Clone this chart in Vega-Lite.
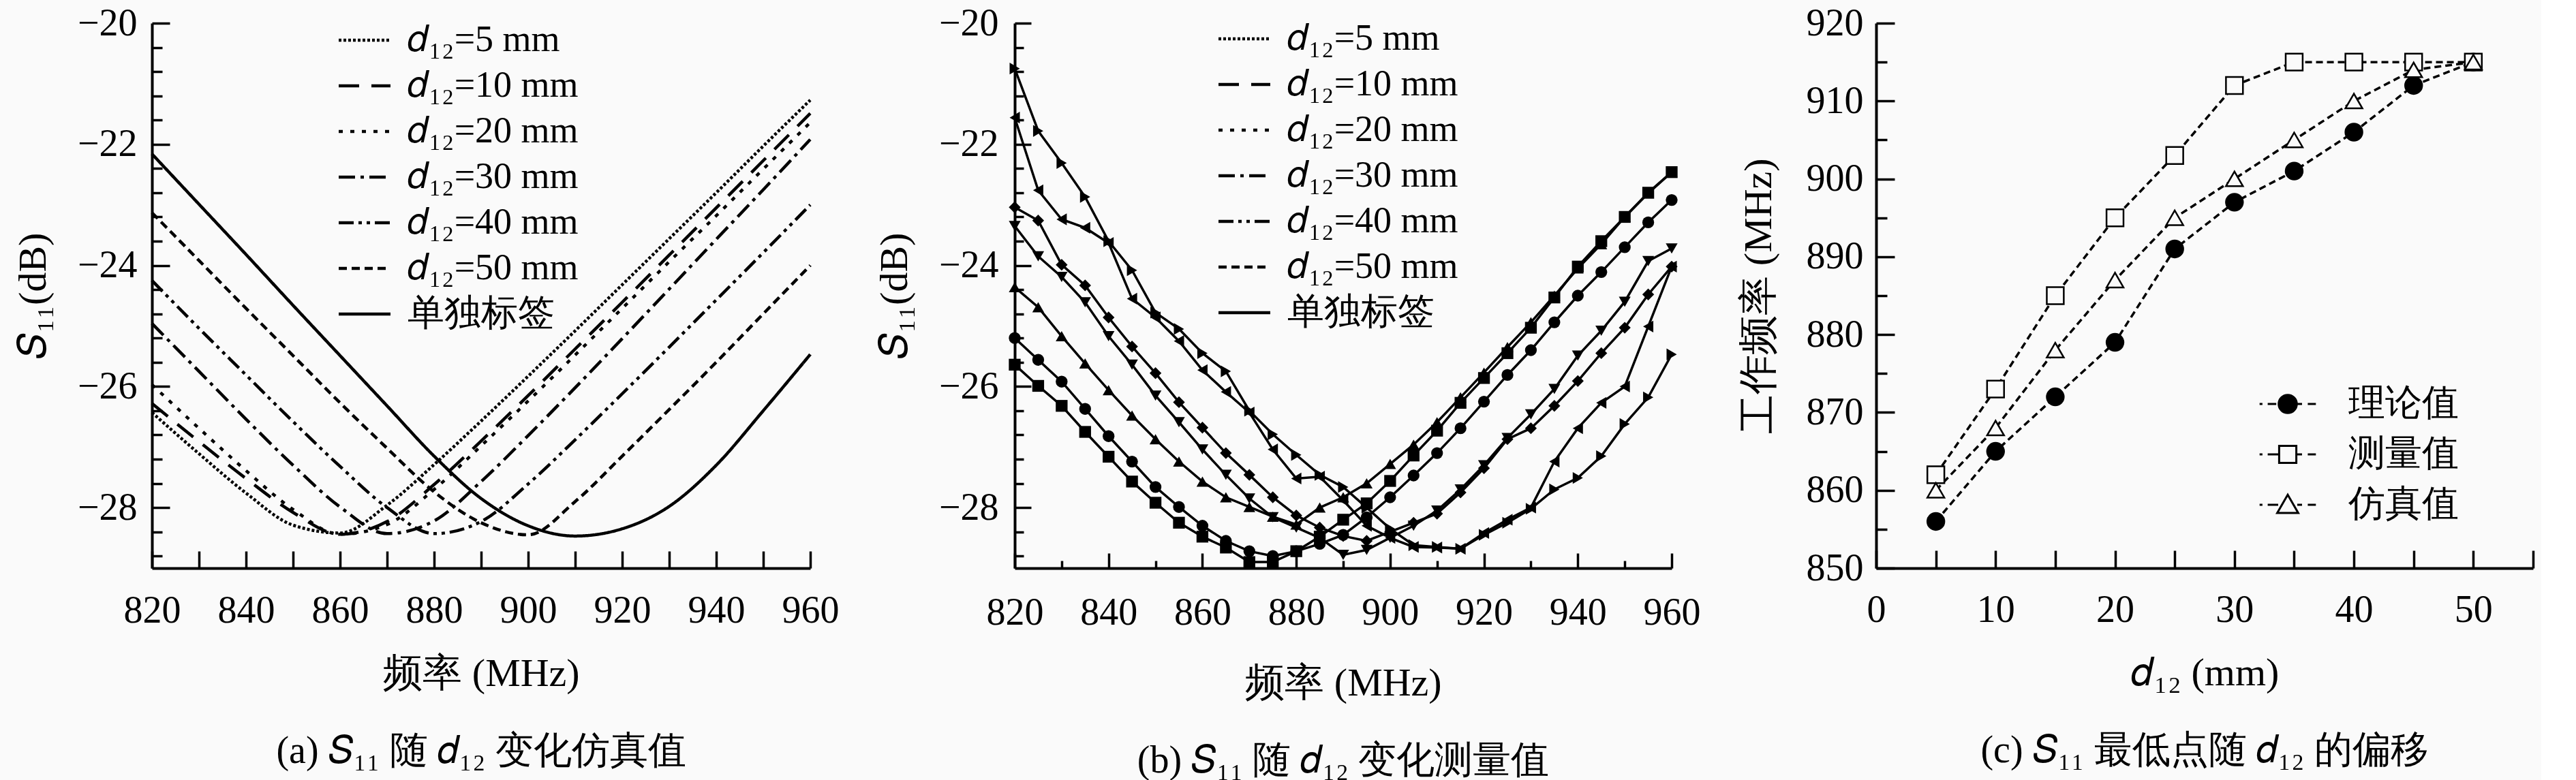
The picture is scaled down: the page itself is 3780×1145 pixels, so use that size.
{
  "$schema": "https://vega.github.io/schema/vega-lite/v6.json",
  "background": "#fafafa",
  "padding": {"left": 20, "top": 6, "right": 10, "bottom": 0},
  "autosize": {"type": "pad"},
  "datasets": {
    "sim": [
      {"s": "𝑑₁₂=5 mm", "f": 820, "v": -26.43}, {"s": "𝑑₁₂=5 mm", "f": 830, "v": -27.11}, {"s": "𝑑₁₂=5 mm", "f": 840, "v": -27.76}, {"s": "𝑑₁₂=5 mm", "f": 850, "v": -28.29}, {"s": "𝑑₁₂=5 mm", "f": 860, "v": -28.42}, {"s": "𝑑₁₂=5 mm", "f": 870, "v": -27.96}, {"s": "𝑑₁₂=5 mm", "f": 880, "v": -27.29}, {"s": "𝑑₁₂=5 mm", "f": 890, "v": -26.57}, {"s": "𝑑₁₂=5 mm", "f": 900, "v": -25.83}, {"s": "𝑑₁₂=5 mm", "f": 910, "v": -25.08}, {"s": "𝑑₁₂=5 mm", "f": 920, "v": -24.32}, {"s": "𝑑₁₂=5 mm", "f": 930, "v": -23.56}, {"s": "𝑑₁₂=5 mm", "f": 940, "v": -22.8}, {"s": "𝑑₁₂=5 mm", "f": 950, "v": -22.03}, {"s": "𝑑₁₂=5 mm", "f": 960, "v": -21.27},
      {"s": "𝑑₁₂=10 mm", "f": 820, "v": -26.28}, {"s": "𝑑₁₂=10 mm", "f": 830, "v": -26.91}, {"s": "𝑑₁₂=10 mm", "f": 840, "v": -27.52}, {"s": "𝑑₁₂=10 mm", "f": 850, "v": -28.08}, {"s": "𝑑₁₂=10 mm", "f": 860, "v": -28.44}, {"s": "𝑑₁₂=10 mm", "f": 870, "v": -28.23}, {"s": "𝑑₁₂=10 mm", "f": 880, "v": -27.62}, {"s": "𝑑₁₂=10 mm", "f": 890, "v": -26.9}, {"s": "𝑑₁₂=10 mm", "f": 900, "v": -26.15}, {"s": "𝑑₁₂=10 mm", "f": 910, "v": -25.38}, {"s": "𝑑₁₂=10 mm", "f": 920, "v": -24.61}, {"s": "𝑑₁₂=10 mm", "f": 930, "v": -23.83}, {"s": "𝑑₁₂=10 mm", "f": 940, "v": -23.05}, {"s": "𝑑₁₂=10 mm", "f": 950, "v": -22.27}, {"s": "𝑑₁₂=10 mm", "f": 960, "v": -21.49},
      {"s": "𝑑₁₂=20 mm", "f": 820, "v": -25.97}, {"s": "𝑑₁₂=20 mm", "f": 830, "v": -26.69}, {"s": "𝑑₁₂=20 mm", "f": 840, "v": -27.39}, {"s": "𝑑₁₂=20 mm", "f": 850, "v": -28.03}, {"s": "𝑑₁₂=20 mm", "f": 860, "v": -28.44}, {"s": "𝑑₁₂=20 mm", "f": 870, "v": -28.28}, {"s": "𝑑₁₂=20 mm", "f": 880, "v": -27.7}, {"s": "𝑑₁₂=20 mm", "f": 890, "v": -26.98}, {"s": "𝑑₁₂=20 mm", "f": 900, "v": -26.24}, {"s": "𝑑₁₂=20 mm", "f": 910, "v": -25.48}, {"s": "𝑑₁₂=20 mm", "f": 920, "v": -24.71}, {"s": "𝑑₁₂=20 mm", "f": 930, "v": -23.94}, {"s": "𝑑₁₂=20 mm", "f": 940, "v": -23.18}, {"s": "𝑑₁₂=20 mm", "f": 950, "v": -22.41}, {"s": "𝑑₁₂=20 mm", "f": 960, "v": -21.64},
      {"s": "𝑑₁₂=30 mm", "f": 820, "v": -24.96}, {"s": "𝑑₁₂=30 mm", "f": 830, "v": -25.75}, {"s": "𝑑₁₂=30 mm", "f": 840, "v": -26.54}, {"s": "𝑑₁₂=30 mm", "f": 850, "v": -27.3}, {"s": "𝑑₁₂=30 mm", "f": 860, "v": -27.99}, {"s": "𝑑₁₂=30 mm", "f": 870, "v": -28.43}, {"s": "𝑑₁₂=30 mm", "f": 880, "v": -28.22}, {"s": "𝑑₁₂=30 mm", "f": 890, "v": -27.57}, {"s": "𝑑₁₂=30 mm", "f": 900, "v": -26.81}, {"s": "𝑑₁₂=30 mm", "f": 910, "v": -26.02}, {"s": "𝑑₁₂=30 mm", "f": 920, "v": -25.21}, {"s": "𝑑₁₂=30 mm", "f": 930, "v": -24.39}, {"s": "𝑑₁₂=30 mm", "f": 940, "v": -23.57}, {"s": "𝑑₁₂=30 mm", "f": 950, "v": -22.75}, {"s": "𝑑₁₂=30 mm", "f": 960, "v": -21.92},
      {"s": "𝑑₁₂=40 mm", "f": 820, "v": -24.25}, {"s": "𝑑₁₂=40 mm", "f": 830, "v": -25.04}, {"s": "𝑑₁₂=40 mm", "f": 840, "v": -25.81}, {"s": "𝑑₁₂=40 mm", "f": 850, "v": -26.58}, {"s": "𝑑₁₂=40 mm", "f": 860, "v": -27.32}, {"s": "𝑑₁₂=40 mm", "f": 870, "v": -28.0}, {"s": "𝑑₁₂=40 mm", "f": 880, "v": -28.43}, {"s": "𝑑₁₂=40 mm", "f": 890, "v": -28.23}, {"s": "𝑑₁₂=40 mm", "f": 900, "v": -27.61}, {"s": "𝑑₁₂=40 mm", "f": 910, "v": -26.88}, {"s": "𝑑₁₂=40 mm", "f": 920, "v": -26.12}, {"s": "𝑑₁₂=40 mm", "f": 930, "v": -25.35}, {"s": "𝑑₁₂=40 mm", "f": 940, "v": -24.57}, {"s": "𝑑₁₂=40 mm", "f": 950, "v": -23.79}, {"s": "𝑑₁₂=40 mm", "f": 960, "v": -23.0},
      {"s": "𝑑₁₂=50 mm", "f": 820, "v": -23.13}, {"s": "𝑑₁₂=50 mm", "f": 830, "v": -23.92}, {"s": "𝑑₁₂=50 mm", "f": 840, "v": -24.71}, {"s": "𝑑₁₂=50 mm", "f": 850, "v": -25.49}, {"s": "𝑑₁₂=50 mm", "f": 860, "v": -26.27}, {"s": "𝑑₁₂=50 mm", "f": 870, "v": -27.02}, {"s": "𝑑₁₂=50 mm", "f": 880, "v": -27.74}, {"s": "𝑑₁₂=50 mm", "f": 890, "v": -28.25}, {"s": "𝑑₁₂=50 mm", "f": 900, "v": -28.45}, {"s": "𝑑₁₂=50 mm", "f": 910, "v": -27.9}, {"s": "𝑑₁₂=50 mm", "f": 920, "v": -27.15}, {"s": "𝑑₁₂=50 mm", "f": 930, "v": -26.38}, {"s": "𝑑₁₂=50 mm", "f": 940, "v": -25.6}, {"s": "𝑑₁₂=50 mm", "f": 950, "v": -24.8}, {"s": "𝑑₁₂=50 mm", "f": 960, "v": -24.0},
      {"s": "单独标签", "f": 820, "v": -22.16}, {"s": "单独标签", "f": 830, "v": -22.99}, {"s": "单独标签", "f": 840, "v": -23.82}, {"s": "单独标签", "f": 850, "v": -24.66}, {"s": "单独标签", "f": 860, "v": -25.49}, {"s": "单独标签", "f": 870, "v": -26.32}, {"s": "单独标签", "f": 880, "v": -27.15}, {"s": "单独标签", "f": 890, "v": -27.85}, {"s": "单独标签", "f": 900, "v": -28.3}, {"s": "单独标签", "f": 910, "v": -28.47}, {"s": "单独标签", "f": 920, "v": -28.35}, {"s": "单独标签", "f": 930, "v": -27.98}, {"s": "单独标签", "f": 940, "v": -27.3}, {"s": "单独标签", "f": 950, "v": -26.4}, {"s": "单独标签", "f": 960, "v": -25.47}
    ],
    "meas": [
      {"s": "𝑑₁₂=5 mm", "f": 820, "v": -25.64}, {"s": "𝑑₁₂=5 mm", "f": 825, "v": -25.99}, {"s": "𝑑₁₂=5 mm", "f": 830, "v": -26.32}, {"s": "𝑑₁₂=5 mm", "f": 835, "v": -26.75}, {"s": "𝑑₁₂=5 mm", "f": 840, "v": -27.16}, {"s": "𝑑₁₂=5 mm", "f": 845, "v": -27.57}, {"s": "𝑑₁₂=5 mm", "f": 850, "v": -27.92}, {"s": "𝑑₁₂=5 mm", "f": 855, "v": -28.25}, {"s": "𝑑₁₂=5 mm", "f": 860, "v": -28.48}, {"s": "𝑑₁₂=5 mm", "f": 865, "v": -28.66}, {"s": "𝑑₁₂=5 mm", "f": 870, "v": -28.9}, {"s": "𝑑₁₂=5 mm", "f": 875, "v": -28.9}, {"s": "𝑑₁₂=5 mm", "f": 880, "v": -28.72}, {"s": "𝑑₁₂=5 mm", "f": 885, "v": -28.48}, {"s": "𝑑₁₂=5 mm", "f": 890, "v": -28.2}, {"s": "𝑑₁₂=5 mm", "f": 895, "v": -27.93}, {"s": "𝑑₁₂=5 mm", "f": 900, "v": -27.56}, {"s": "𝑑₁₂=5 mm", "f": 905, "v": -27.14}, {"s": "𝑑₁₂=5 mm", "f": 910, "v": -26.73}, {"s": "𝑑₁₂=5 mm", "f": 915, "v": -26.27}, {"s": "𝑑₁₂=5 mm", "f": 920, "v": -25.86}, {"s": "𝑑₁₂=5 mm", "f": 925, "v": -25.45}, {"s": "𝑑₁₂=5 mm", "f": 930, "v": -25.03}, {"s": "𝑑₁₂=5 mm", "f": 935, "v": -24.53}, {"s": "𝑑₁₂=5 mm", "f": 940, "v": -24.02}, {"s": "𝑑₁₂=5 mm", "f": 945, "v": -23.6}, {"s": "𝑑₁₂=5 mm", "f": 950, "v": -23.2}, {"s": "𝑑₁₂=5 mm", "f": 955, "v": -22.8}, {"s": "𝑑₁₂=5 mm", "f": 960, "v": -22.46},
      {"s": "𝑑₁₂=10 mm", "f": 820, "v": -25.2}, {"s": "𝑑₁₂=10 mm", "f": 825, "v": -25.56}, {"s": "𝑑₁₂=10 mm", "f": 830, "v": -25.92}, {"s": "𝑑₁₂=10 mm", "f": 835, "v": -26.37}, {"s": "𝑑₁₂=10 mm", "f": 840, "v": -26.82}, {"s": "𝑑₁₂=10 mm", "f": 845, "v": -27.24}, {"s": "𝑑₁₂=10 mm", "f": 850, "v": -27.66}, {"s": "𝑑₁₂=10 mm", "f": 855, "v": -27.99}, {"s": "𝑑₁₂=10 mm", "f": 860, "v": -28.3}, {"s": "𝑑₁₂=10 mm", "f": 865, "v": -28.55}, {"s": "𝑑₁₂=10 mm", "f": 870, "v": -28.72}, {"s": "𝑑₁₂=10 mm", "f": 875, "v": -28.8}, {"s": "𝑑₁₂=10 mm", "f": 880, "v": -28.72}, {"s": "𝑑₁₂=10 mm", "f": 885, "v": -28.6}, {"s": "𝑑₁₂=10 mm", "f": 890, "v": -28.45}, {"s": "𝑑₁₂=10 mm", "f": 895, "v": -28.16}, {"s": "𝑑₁₂=10 mm", "f": 900, "v": -27.83}, {"s": "𝑑₁₂=10 mm", "f": 905, "v": -27.47}, {"s": "𝑑₁₂=10 mm", "f": 910, "v": -27.1}, {"s": "𝑑₁₂=10 mm", "f": 915, "v": -26.69}, {"s": "𝑑₁₂=10 mm", "f": 920, "v": -26.25}, {"s": "𝑑₁₂=10 mm", "f": 925, "v": -25.81}, {"s": "𝑑₁₂=10 mm", "f": 930, "v": -25.4}, {"s": "𝑑₁₂=10 mm", "f": 935, "v": -24.94}, {"s": "𝑑₁₂=10 mm", "f": 940, "v": -24.5}, {"s": "𝑑₁₂=10 mm", "f": 945, "v": -24.11}, {"s": "𝑑₁₂=10 mm", "f": 950, "v": -23.7}, {"s": "𝑑₁₂=10 mm", "f": 955, "v": -23.29}, {"s": "𝑑₁₂=10 mm", "f": 960, "v": -22.92},
      {"s": "𝑑₁₂=20 mm", "f": 820, "v": -24.36}, {"s": "𝑑₁₂=20 mm", "f": 825, "v": -24.69}, {"s": "𝑑₁₂=20 mm", "f": 830, "v": -25.17}, {"s": "𝑑₁₂=20 mm", "f": 835, "v": -25.62}, {"s": "𝑑₁₂=20 mm", "f": 840, "v": -26.06}, {"s": "𝑑₁₂=20 mm", "f": 845, "v": -26.48}, {"s": "𝑑₁₂=20 mm", "f": 850, "v": -26.87}, {"s": "𝑑₁₂=20 mm", "f": 855, "v": -27.24}, {"s": "𝑑₁₂=20 mm", "f": 860, "v": -27.57}, {"s": "𝑑₁₂=20 mm", "f": 865, "v": -27.83}, {"s": "𝑑₁₂=20 mm", "f": 870, "v": -27.99}, {"s": "𝑑₁₂=20 mm", "f": 875, "v": -28.15}, {"s": "𝑑₁₂=20 mm", "f": 880, "v": -28.28}, {"s": "𝑑₁₂=20 mm", "f": 885, "v": -28.0}, {"s": "𝑑₁₂=20 mm", "f": 890, "v": -27.83}, {"s": "𝑑₁₂=20 mm", "f": 895, "v": -27.6}, {"s": "𝑑₁₂=20 mm", "f": 900, "v": -27.28}, {"s": "𝑑₁₂=20 mm", "f": 905, "v": -26.96}, {"s": "𝑑₁₂=20 mm", "f": 910, "v": -26.59}, {"s": "𝑑₁₂=20 mm", "f": 915, "v": -26.18}, {"s": "𝑑₁₂=20 mm", "f": 920, "v": -25.77}, {"s": "𝑑₁₂=20 mm", "f": 925, "v": -25.35}, {"s": "𝑑₁₂=20 mm", "f": 930, "v": -24.94}, {"s": "𝑑₁₂=20 mm", "f": 935, "v": -24.5}, {"s": "𝑑₁₂=20 mm", "f": 940, "v": -24.05}, {"s": "𝑑₁₂=20 mm", "f": 945, "v": -23.65}, {"s": "𝑑₁₂=20 mm", "f": 950, "v": -23.2}, {"s": "𝑑₁₂=20 mm", "f": 955, "v": -22.81}, {"s": "𝑑₁₂=20 mm", "f": 960, "v": -22.46},
      {"s": "𝑑₁₂=30 mm", "f": 820, "v": -23.35}, {"s": "𝑑₁₂=30 mm", "f": 825, "v": -23.85}, {"s": "𝑑₁₂=30 mm", "f": 830, "v": -24.19}, {"s": "𝑑₁₂=30 mm", "f": 835, "v": -24.61}, {"s": "𝑑₁₂=30 mm", "f": 840, "v": -25.17}, {"s": "𝑑₁₂=30 mm", "f": 845, "v": -25.64}, {"s": "𝑑₁₂=30 mm", "f": 850, "v": -26.15}, {"s": "𝑑₁₂=30 mm", "f": 855, "v": -26.59}, {"s": "𝑑₁₂=30 mm", "f": 860, "v": -27.04}, {"s": "𝑑₁₂=30 mm", "f": 865, "v": -27.46}, {"s": "𝑑₁₂=30 mm", "f": 870, "v": -27.85}, {"s": "𝑑₁₂=30 mm", "f": 875, "v": -28.16}, {"s": "𝑑₁₂=30 mm", "f": 880, "v": -28.33}, {"s": "𝑑₁₂=30 mm", "f": 885, "v": -28.5}, {"s": "𝑑₁₂=30 mm", "f": 890, "v": -28.78}, {"s": "𝑑₁₂=30 mm", "f": 895, "v": -28.7}, {"s": "𝑑₁₂=30 mm", "f": 900, "v": -28.5}, {"s": "𝑑₁₂=30 mm", "f": 905, "v": -28.3}, {"s": "𝑑₁₂=30 mm", "f": 910, "v": -28.05}, {"s": "𝑑₁₂=30 mm", "f": 915, "v": -27.7}, {"s": "𝑑₁₂=30 mm", "f": 920, "v": -27.3}, {"s": "𝑑₁₂=30 mm", "f": 925, "v": -26.85}, {"s": "𝑑₁₂=30 mm", "f": 930, "v": -26.46}, {"s": "𝑑₁₂=30 mm", "f": 935, "v": -26.04}, {"s": "𝑑₁₂=30 mm", "f": 940, "v": -25.49}, {"s": "𝑑₁₂=30 mm", "f": 945, "v": -25.08}, {"s": "𝑑₁₂=30 mm", "f": 950, "v": -24.6}, {"s": "𝑑₁₂=30 mm", "f": 955, "v": -23.93}, {"s": "𝑑₁₂=30 mm", "f": 960, "v": -23.72},
      {"s": "𝑑₁₂=40 mm", "f": 820, "v": -23.04}, {"s": "𝑑₁₂=40 mm", "f": 825, "v": -23.26}, {"s": "𝑑₁₂=40 mm", "f": 830, "v": -23.99}, {"s": "𝑑₁₂=40 mm", "f": 835, "v": -24.33}, {"s": "𝑑₁₂=40 mm", "f": 840, "v": -24.86}, {"s": "𝑑₁₂=40 mm", "f": 845, "v": -25.34}, {"s": "𝑑₁₂=40 mm", "f": 850, "v": -25.78}, {"s": "𝑑₁₂=40 mm", "f": 855, "v": -26.26}, {"s": "𝑑₁₂=40 mm", "f": 860, "v": -26.68}, {"s": "𝑑₁₂=40 mm", "f": 865, "v": -27.1}, {"s": "𝑑₁₂=40 mm", "f": 870, "v": -27.46}, {"s": "𝑑₁₂=40 mm", "f": 875, "v": -27.83}, {"s": "𝑑₁₂=40 mm", "f": 880, "v": -28.13}, {"s": "𝑑₁₂=40 mm", "f": 885, "v": -28.33}, {"s": "𝑑₁₂=40 mm", "f": 890, "v": -28.47}, {"s": "𝑑₁₂=40 mm", "f": 895, "v": -28.55}, {"s": "𝑑₁₂=40 mm", "f": 900, "v": -28.4}, {"s": "𝑑₁₂=40 mm", "f": 905, "v": -28.25}, {"s": "𝑑₁₂=40 mm", "f": 910, "v": -28.1}, {"s": "𝑑₁₂=40 mm", "f": 915, "v": -27.75}, {"s": "𝑑₁₂=40 mm", "f": 920, "v": -27.35}, {"s": "𝑑₁₂=40 mm", "f": 925, "v": -26.87}, {"s": "𝑑₁₂=40 mm", "f": 930, "v": -26.69}, {"s": "𝑑₁₂=40 mm", "f": 935, "v": -26.32}, {"s": "𝑑₁₂=40 mm", "f": 940, "v": -25.91}, {"s": "𝑑₁₂=40 mm", "f": 945, "v": -25.45}, {"s": "𝑑₁₂=40 mm", "f": 950, "v": -25.03}, {"s": "𝑑₁₂=40 mm", "f": 955, "v": -24.48}, {"s": "𝑑₁₂=40 mm", "f": 960, "v": -24.02},
      {"s": "𝑑₁₂=50 mm", "f": 820, "v": -21.56}, {"s": "𝑑₁₂=50 mm", "f": 825, "v": -22.76}, {"s": "𝑑₁₂=50 mm", "f": 830, "v": -23.24}, {"s": "𝑑₁₂=50 mm", "f": 835, "v": -23.38}, {"s": "𝑑₁₂=50 mm", "f": 840, "v": -23.63}, {"s": "𝑑₁₂=50 mm", "f": 845, "v": -24.55}, {"s": "𝑑₁₂=50 mm", "f": 850, "v": -24.86}, {"s": "𝑑₁₂=50 mm", "f": 855, "v": -25.25}, {"s": "𝑑₁₂=50 mm", "f": 860, "v": -25.73}, {"s": "𝑑₁₂=50 mm", "f": 865, "v": -26.09}, {"s": "𝑑₁₂=50 mm", "f": 870, "v": -26.43}, {"s": "𝑑₁₂=50 mm", "f": 875, "v": -27.04}, {"s": "𝑑₁₂=50 mm", "f": 880, "v": -27.52}, {"s": "𝑑₁₂=50 mm", "f": 885, "v": -27.49}, {"s": "𝑑₁₂=50 mm", "f": 890, "v": -27.88}, {"s": "𝑑₁₂=50 mm", "f": 895, "v": -28.3}, {"s": "𝑑₁₂=50 mm", "f": 900, "v": -28.5}, {"s": "𝑑₁₂=50 mm", "f": 905, "v": -28.65}, {"s": "𝑑₁₂=50 mm", "f": 910, "v": -28.66}, {"s": "𝑑₁₂=50 mm", "f": 915, "v": -28.68}, {"s": "𝑑₁₂=50 mm", "f": 920, "v": -28.42}, {"s": "𝑑₁₂=50 mm", "f": 925, "v": -28.2}, {"s": "𝑑₁₂=50 mm", "f": 930, "v": -28.0}, {"s": "𝑑₁₂=50 mm", "f": 935, "v": -27.24}, {"s": "𝑑₁₂=50 mm", "f": 940, "v": -26.69}, {"s": "𝑑₁₂=50 mm", "f": 945, "v": -26.27}, {"s": "𝑑₁₂=50 mm", "f": 950, "v": -26.0}, {"s": "𝑑₁₂=50 mm", "f": 955, "v": -25.01}, {"s": "𝑑₁₂=50 mm", "f": 960, "v": -24.02},
      {"s": "单独标签", "f": 820, "v": -20.75}, {"s": "单独标签", "f": 825, "v": -21.78}, {"s": "单独标签", "f": 830, "v": -22.31}, {"s": "单独标签", "f": 835, "v": -22.87}, {"s": "单独标签", "f": 840, "v": -23.6}, {"s": "单独标签", "f": 845, "v": -24.08}, {"s": "单独标签", "f": 850, "v": -24.78}, {"s": "单独标签", "f": 855, "v": -25.05}, {"s": "单独标签", "f": 860, "v": -25.45}, {"s": "单独标签", "f": 865, "v": -25.75}, {"s": "单独标签", "f": 870, "v": -26.4}, {"s": "单独标签", "f": 875, "v": -26.79}, {"s": "单独标签", "f": 880, "v": -27.13}, {"s": "单独标签", "f": 885, "v": -27.46}, {"s": "单独标签", "f": 890, "v": -27.66}, {"s": "单独标签", "f": 895, "v": -28.0}, {"s": "单独标签", "f": 900, "v": -28.35}, {"s": "单独标签", "f": 905, "v": -28.62}, {"s": "单独标签", "f": 910, "v": -28.65}, {"s": "单独标签", "f": 915, "v": -28.68}, {"s": "单独标签", "f": 920, "v": -28.45}, {"s": "单独标签", "f": 925, "v": -28.25}, {"s": "单独标签", "f": 930, "v": -28.02}, {"s": "单独标签", "f": 935, "v": -27.7}, {"s": "单独标签", "f": 940, "v": -27.51}, {"s": "单独标签", "f": 945, "v": -27.15}, {"s": "单独标签", "f": 950, "v": -26.62}, {"s": "单独标签", "f": 955, "v": -26.18}, {"s": "单独标签", "f": 960, "v": -25.47}
    ],
    "shift": [
      {"s": "理论值", "d": 5, "f": 856}, {"s": "理论值", "d": 10, "f": 865}, {"s": "理论值", "d": 15, "f": 872}, {"s": "理论值", "d": 20, "f": 879}, {"s": "理论值", "d": 25, "f": 891}, {"s": "理论值", "d": 30, "f": 897}, {"s": "理论值", "d": 35, "f": 901}, {"s": "理论值", "d": 40, "f": 906}, {"s": "理论值", "d": 45, "f": 912}, {"s": "理论值", "d": 50, "f": 915},
      {"s": "测量值", "d": 5, "f": 862}, {"s": "测量值", "d": 10, "f": 873}, {"s": "测量值", "d": 15, "f": 885}, {"s": "测量值", "d": 20, "f": 895}, {"s": "测量值", "d": 25, "f": 903}, {"s": "测量值", "d": 30, "f": 912}, {"s": "测量值", "d": 35, "f": 915}, {"s": "测量值", "d": 40, "f": 915}, {"s": "测量值", "d": 45, "f": 915}, {"s": "测量值", "d": 50, "f": 915},
      {"s": "仿真值", "d": 5, "f": 860}, {"s": "仿真值", "d": 10, "f": 868}, {"s": "仿真值", "d": 15, "f": 878}, {"s": "仿真值", "d": 20, "f": 887}, {"s": "仿真值", "d": 25, "f": 895}, {"s": "仿真值", "d": 30, "f": 900}, {"s": "仿真值", "d": 35, "f": 905}, {"s": "仿真值", "d": 40, "f": 910}, {"s": "仿真值", "d": 45, "f": 914}, {"s": "仿真值", "d": 50, "f": 915}
    ]
  },
  "spacing": 300,
  "bounds": "flush",
  "hconcat": [
    {
      "width": 966,
      "height": 800,
      "data": {"name": "sim"},
      "title": {"text": "(a) 𝑆₁₁ 随 𝑑₁₂ 变化仿真值", "orient": "bottom", "offset": 58, "frame": "group", "anchor": "middle"},
      "mark": {"type": "line", "interpolate": "monotone", "strokeWidth": 4.5, "color": "black", "strokeCap": "butt"},
      "encoding": {
        "x": {
          "field": "f", "type": "quantitative", "title": "频率 (MHz)",
          "scale": {"domain": [820, 960], "nice": false, "zero": false},
          "axis": {"values": [820, 830, 840, 850, 860, 870, 880, 890, 900, 910, 920, 930, 940, 950, 960], "labelExpr": "datum.value % 20 === 0 ? datum.label : ''", "tickSize": -25, "labelPadding": 60, "titlePadding": 36}
        },
        "y": {
          "field": "v", "type": "quantitative", "title": "𝑆₁₁(dB)",
          "scale": {"domain": [-29, -20], "nice": false, "zero": false},
          "axis": {"values": [-20, -20.4, -20.8, -21.2, -21.6, -22, -22.4, -22.8, -23.2, -23.6, -24, -24.4, -24.8, -25.2, -25.6, -26, -26.4, -26.8, -27.2, -27.6, -28, -28.4, -28.8], "format": ".0f", "labelExpr": "datum.value % 2 === 0 ? datum.label : ''", "tickSize": {"condition": {"test": "datum.value % 2 === 0", "value": -26}, "value": -15}, "labelPadding": 48, "titlePadding": 35}
        },
        "strokeDash": {
          "field": "s", "type": "nominal",
          "scale": {"domain": ["𝑑₁₂=5 mm", "𝑑₁₂=10 mm", "𝑑₁₂=20 mm", "𝑑₁₂=30 mm", "𝑑₁₂=40 mm", "𝑑₁₂=50 mm", "单独标签"], "range": [[4, 3], [30, 18], [6, 11], [24, 8, 5, 8], [22, 7, 5, 7, 5, 7], [12, 7], [1, 0]]},
          "legend": {"title": null, "orient": "none", "legendX": 285, "legendY": -2, "symbolType": "M-2,0H2", "symbolSize": 1444, "symbolStrokeWidth": 4.5, "symbolStrokeColor": "black", "labelOffset": 36, "rowPadding": 13, "labelLimit": 0}
        }
      }
    },
    {
      "width": 964,
      "height": 800,
      "data": {"name": "meas"},
      "title": {"text": "(b) 𝑆₁₁ 随 𝑑₁₂ 变化测量值", "orient": "bottom", "offset": 58, "frame": "group", "anchor": "middle"},
      "encoding": {
        "x": {
          "field": "f", "type": "quantitative", "title": "频率 (MHz)",
          "scale": {"domain": [820, 960], "nice": false, "zero": false},
          "axis": {"values": [820, 830, 840, 850, 860, 870, 880, 890, 900, 910, 920, 930, 940, 950, 960], "labelExpr": "datum.value % 20 === 0 ? datum.label : ''", "tickSize": {"condition": {"test": "datum.value % 20 === 0", "value": -22}, "value": -11}, "labelPadding": 60, "titlePadding": 36}
        },
        "y": {
          "field": "v", "type": "quantitative", "title": "𝑆₁₁(dB)",
          "scale": {"domain": [-29, -20], "nice": false, "zero": false},
          "axis": {"values": [-20, -20.4, -20.8, -21.2, -21.6, -22, -22.4, -22.8, -23.2, -23.6, -24, -24.4, -24.8, -25.2, -25.6, -26, -26.4, -26.8, -27.2, -27.6, -28, -28.4, -28.8], "format": ".0f", "labelExpr": "datum.value % 2 === 0 ? datum.label : ''", "tickSize": {"condition": {"test": "datum.value % 2 === 0", "value": -24}, "value": -13}, "labelPadding": 48, "titlePadding": 35}
        }
      },
      "layer": [
        {
          "transform": [{"filter": "false"}],
          "mark": {"type": "line", "strokeWidth": 4.5, "color": "black", "strokeCap": "butt"},
          "encoding": {
            "strokeDash": {
              "field": "s", "type": "nominal",
              "scale": {"domain": ["𝑑₁₂=5 mm", "𝑑₁₂=10 mm", "𝑑₁₂=20 mm", "𝑑₁₂=30 mm", "𝑑₁₂=40 mm", "𝑑₁₂=50 mm", "单独标签"], "range": [[4, 3], [30, 18], [6, 11], [24, 8, 5, 8], [22, 7, 5, 7, 5, 7], [12, 7], [1, 0]]},
              "legend": {"title": null, "orient": "none", "legendX": 310, "legendY": -4, "symbolType": "M-2,0H2", "symbolSize": 1444, "symbolStrokeWidth": 4.5, "symbolStrokeColor": "black", "labelOffset": 36, "rowPadding": 13, "labelLimit": 0}
            }
          }
        },
        {
          "mark": {"type": "line", "strokeWidth": 3.5, "color": "black"},
          "encoding": {"detail": {"field": "s", "type": "nominal"}}
        },
        {
          "mark": {"type": "point", "filled": true, "color": "black", "size": 300, "opacity": 1},
          "encoding": {
            "shape": {
              "field": "s", "type": "nominal", "legend": null,
              "scale": {"range": ["triangle-right", "circle", "triangle-up", "triangle-down", "diamond", "square", "triangle-left"]}
            }
          }
        }
      ]
    },
    {
      "width": 964,
      "height": 800,
      "data": {"name": "shift"},
      "title": {"text": "(c) 𝑆₁₁ 最低点随 𝑑₁₂ 的偏移", "orient": "bottom", "offset": 58, "frame": "group", "anchor": "middle"},
      "encoding": {
        "x": {
          "field": "d", "type": "quantitative", "title": "𝑑₁₂ (mm)",
          "scale": {"domain": [0, 55], "nice": false},
          "axis": {"values": [0, 5, 10, 15, 20, 25, 30, 35, 40, 45, 50, 55], "labelExpr": "datum.value % 10 === 0 && datum.value <= 50 ? datum.label : ''", "tickSize": -26, "labelPadding": 60, "titlePadding": 36}
        },
        "y": {
          "field": "f", "type": "quantitative", "title": "工作频率 (MHz)",
          "scale": {"domain": [850, 920], "nice": false, "zero": false},
          "axis": {"values": [850, 855, 860, 865, 870, 875, 880, 885, 890, 895, 900, 905, 910, 915, 920], "labelExpr": "datum.value % 10 === 0 ? datum.label : ''", "tickSize": {"condition": {"test": "datum.value % 10 === 0", "value": -27}, "value": -16}, "labelPadding": 46, "titlePadding": 40}
        }
      },
      "layer": [
        {
          "mark": {"type": "line", "strokeWidth": 3.5, "color": "black", "strokeDash": [10, 6]},
          "encoding": {"detail": {"field": "s", "type": "nominal"}}
        },
        {
          "mark": {"type": "point", "size": 620, "stroke": "black", "strokeWidth": 2.5, "opacity": 1},
          "encoding": {
            "shape": {
              "field": "s", "type": "nominal", "legend": null, "sort": "descending",
              "scale": {"range": ["circle", "square", "triangle-up"]}
            },
            "fill": {
              "field": "s", "type": "nominal",
              "scale": {"domain": ["理论值", "测量值", "仿真值"], "range": ["black", "#fafafa", "#fafafa"]},
              "legend": {
                "title": null, "orient": "none", "legendX": 577, "legendY": 532, "symbolSize": 784, "labelOffset": 62, "rowPadding": 20, "labelLimit": 0, "labelFontSize": 54,
                "symbolStrokeColor": "black", "symbolStrokeWidth": 3, "symbolOpacity": 1,
                "symbolType": {"expr": "datum.value === '理论值' ? 'M-2.95,0H-2.65M-2.1,0H-1.2M0.9,0H1.5M2.1,0H2.95M0.95,0A0.95,0.95,0,1,1,-0.95,0A0.95,0.95,0,1,1,0.95,0Z' : datum.value === '测量值' ? 'M-2.95,0H-2.65M-2.1,0H-0.9M0.9,0H1.5M2.1,0H2.95M-0.9,-0.9H0.9V0.9H-0.9Z' : 'M-2.95,0H-2.65M-2.1,0H-1.0M1.0,0H1.5M2.1,0H2.95M0,-1.05L1.1,0.85H-1.1Z'"}
              }
            }
          }
        }
      ]
    }
  ],
  "resolve": {
    "scale": {"strokeDash": "independent", "shape": "independent", "fill": "independent"},
    "legend": {"strokeDash": "independent", "shape": "independent", "fill": "independent"}
  },
  "config": {
    "view": {"stroke": null},
    "font": "Liberation Serif",
    "axis": {"domainColor": "black", "domainWidth": 4, "tickColor": "black", "tickWidth": 3.5, "labelFont": "Liberation Serif", "labelFontSize": 56, "labelColor": "black", "titleFont": "Liberation Serif", "titleFontSize": 58, "titleFontWeight": "normal", "titleColor": "black", "grid": false, "labelFlush": false, "labelOverlap": false},
    "legend": {"labelFont": "Liberation Serif", "labelFontSize": 54, "labelColor": "black"},
    "title": {"font": "Liberation Serif", "fontSize": 56, "fontWeight": "normal", "color": "black"}
  }
}
